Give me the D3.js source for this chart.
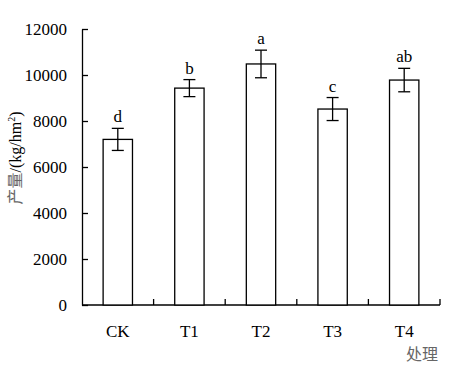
<!DOCTYPE html>
<html>
<head>
<meta charset="utf-8">
<script src="https://cdn.jsdelivr.net/npm/d3@7"></script>
<style>
  body { margin: 0; background: #fff; }
  svg { display: block; }
</style>
</head>
<body>
<svg id="chart" width="475" height="365"></svg>
<script>
const categories = ["CK", "T1", "T2", "T3", "T4"];
const yields = [7200, 9430, 10480, 8520, 9780];
const errors = [480, 370, 600, 500, 510];
const letters = ["d", "b", "a", "c", "ab"];
const yTicks = [0, 2000, 4000, 6000, 8000, 10000, 12000];

const serif = "'Liberation Serif', 'Times New Roman', serif";
const cjk = "'Noto Sans CJK SC', sans-serif";

const margin = { top: 29, right: 35, bottom: 60, left: 82 };
const width = 475 - margin.left - margin.right;
const height = 365 - margin.top - margin.bottom;

const svg = d3.select("#chart");
const g = svg.append("g").attr("transform", `translate(${margin.left},${margin.top})`);

const x = d3.scaleBand().domain(categories).range([0, width]).paddingInner(0.59).paddingOuter(0.295);
const band = d3.scaleBand().domain(categories).range([0, width]);
const y = d3.scaleLinear().domain([0, 12000]).range([height, 0]);

// y axis, ticks pointing inward
const yAxis = g.append("g")
  .call(d3.axisLeft(y).tickValues(yTicks).tickSizeInner(-6).tickSizeOuter(0).tickPadding(15).tickFormat(d3.format("d")));
yAxis.attr("font-family", null).attr("font-size", null);
yAxis.select(".domain").attr("stroke", "#000").attr("stroke-width", 1.3);
yAxis.selectAll(".tick line").attr("stroke", "#000").attr("stroke-width", 1.3);
yAxis.selectAll(".tick text")
  .style("font-family", serif)
  .style("font-size", "17px")
  .attr("fill", "#000");

// x axis: line with boundary ticks pointing up
g.append("line")
  .attr("x1", 0).attr("x2", width)
  .attr("y1", height).attr("y2", height)
  .attr("stroke", "#000").attr("stroke-width", 1.3);

g.selectAll(".xtick")
  .data(categories)
  .enter()
  .append("line")
  .attr("class", "xtick")
  .attr("x1", (d) => band(d) + band.bandwidth())
  .attr("x2", (d) => band(d) + band.bandwidth())
  .attr("y1", height)
  .attr("y2", height - 6)
  .attr("stroke", "#000").attr("stroke-width", 1.3);

g.selectAll(".xlabel")
  .data(categories)
  .enter()
  .append("text")
  .attr("x", (d) => band(d) + band.bandwidth() / 2)
  .attr("y", height + 32)
  .attr("text-anchor", "middle")
  .style("font-family", serif)
  .style("font-size", "17px")
  .text((d) => d);

// bars
g.selectAll(".bar")
  .data(categories)
  .enter()
  .append("rect")
  .attr("x", (d) => x(d))
  .attr("y", (d, i) => y(yields[i]))
  .attr("width", x.bandwidth())
  .attr("height", (d, i) => height - y(yields[i]))
  .attr("fill", "#fff")
  .attr("stroke", "#000")
  .attr("stroke-width", 1.3);

// error bars
const cap = 6;
const eb = g.selectAll(".err")
  .data(categories)
  .enter()
  .append("g")
  .attr("stroke", "#000")
  .attr("stroke-width", 1.3);

eb.append("line")
  .attr("x1", (d) => x(d) + x.bandwidth() / 2)
  .attr("x2", (d) => x(d) + x.bandwidth() / 2)
  .attr("y1", (d, i) => y(yields[i] + errors[i]))
  .attr("y2", (d, i) => y(yields[i] - errors[i]));
eb.append("line")
  .attr("x1", (d) => x(d) + x.bandwidth() / 2 - cap)
  .attr("x2", (d) => x(d) + x.bandwidth() / 2 + cap)
  .attr("y1", (d, i) => y(yields[i] + errors[i]))
  .attr("y2", (d, i) => y(yields[i] + errors[i]));
eb.append("line")
  .attr("x1", (d) => x(d) + x.bandwidth() / 2 - cap)
  .attr("x2", (d) => x(d) + x.bandwidth() / 2 + cap)
  .attr("y1", (d, i) => y(yields[i] - errors[i]))
  .attr("y2", (d, i) => y(yields[i] - errors[i]));

// significance letters
g.selectAll(".sig")
  .data(categories)
  .enter()
  .append("text")
  .attr("x", (d) => x(d) + x.bandwidth() / 2)
  .attr("y", (d, i) => y(yields[i] + errors[i]) - 6)
  .attr("text-anchor", "middle")
  .style("font-family", serif)
  .style("font-size", "17px")
  .text((d, i) => letters[i]);

// y axis title
const yt = svg.append("text")
  .attr("transform", "translate(21,158) rotate(-90)")
  .attr("text-anchor", "middle")
  .style("font-size", "16px");
yt.append("tspan").style("font-family", cjk).attr("fill", "#666").text("产量");
yt.append("tspan").style("font-family", serif).attr("fill", "#000").text("/(kg/hm");
yt.append("tspan").style("font-family", serif).attr("fill", "#000").style("font-size", "10px").attr("dy", -6).text("2");
yt.append("tspan").style("font-family", serif).attr("fill", "#000").attr("dy", 6).text(")");

// x axis title
svg.append("text")
  .attr("x", margin.left + width - 2)
  .attr("y", 360)
  .attr("text-anchor", "end")
  .style("font-family", cjk)
  .style("font-size", "16px")
  .attr("fill", "#666")
  .text("处理");
</script>
</body>
</html>
